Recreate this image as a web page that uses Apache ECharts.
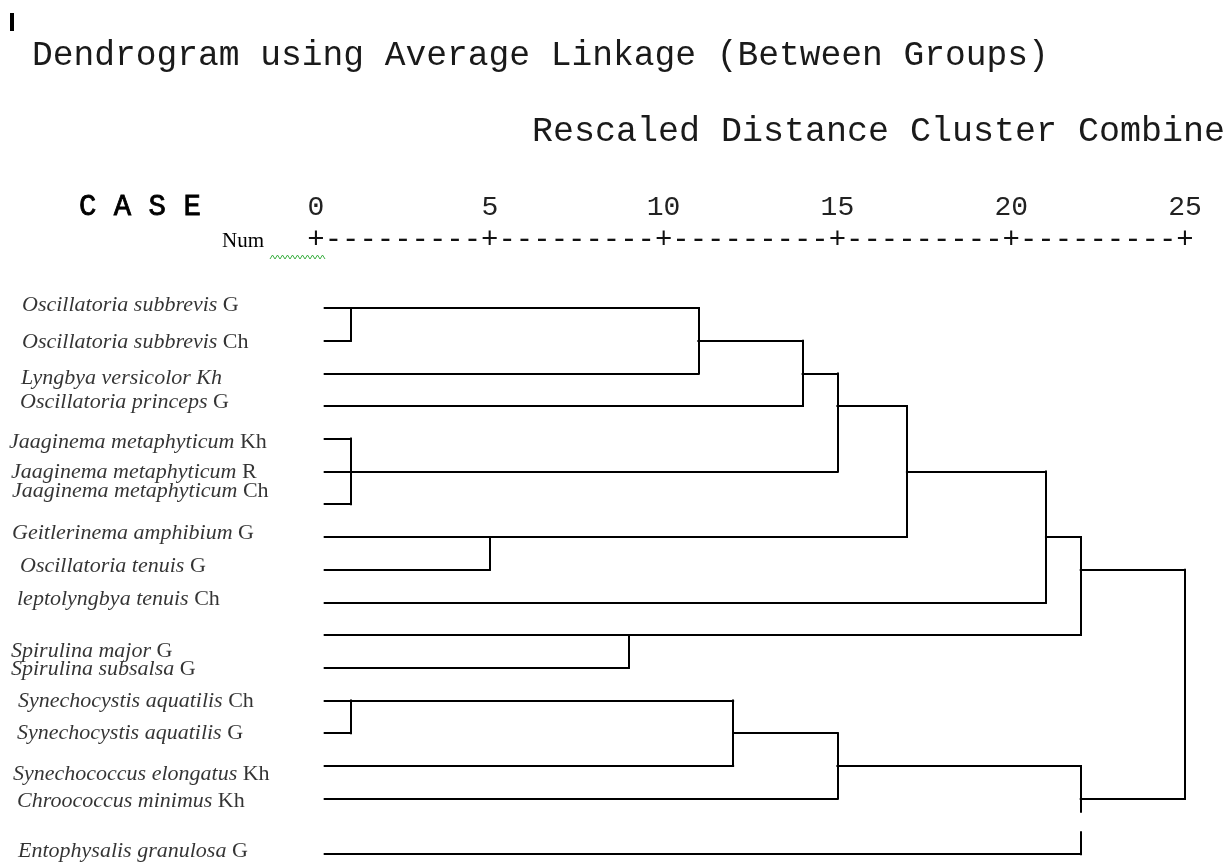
<!DOCTYPE html>
<html><head><meta charset="utf-8">
<script src="https://cdn.jsdelivr.net/npm/echarts@6/dist/echarts.min.js"></script>
<style>html,body{margin:0;padding:0;background:#fff}#c{width:1230px;height:864px}</style>
</head><body><div id="c"></div>
<script>
// ---- data ----
const species = ['Oscillatoria subbrevis','Oscillatoria subbrevis','Lyngbya versicolor','Oscillatoria princeps',
  'Jaaginema metaphyticum','Jaaginema metaphyticum','Jaaginema metaphyticum','Geitlerinema amphibium',
  'Oscillatoria tenuis','leptolyngbya tenuis','Spirulina major','Spirulina subsalsa',
  'Synechocystis aquatilis','Synechocystis aquatilis','Synechococcus elongatus','Chroococcus minimus',
  'Entophysalis granulosa'];
const sites = ['G','Ch','Kh','G','Kh','R','Ch','G','G','Ch','G','G','Ch','G','Kh','Kh','G'];
const siteItalic = [false,false,true,false,false,false,false,false,false,false,false,false,false,false,false,false,false];
const leafRows = [0,1,2,3,4,5,6,7,8,9,10,11,12,13,14,15,16.7];
// [clusterA, clusterB, rescaled distance]; new clusters numbered from 17
const merges = [[0,1,1],[17,2,11],[18,3,14],[4,5,1],[20,6,1],[19,21,15],[7,8,5],[22,23,17],
  [24,9,21],[10,11,9],[25,26,22],[12,13,1],[28,14,12],[29,15,15],[30,16,22],[27,31,25]];
const axisTicks = [0,5,10,15,20,25];
const leafStart = 0.25;

// ---- layout (pixel offsets of the leaf labels, gap in one vertical) ----
const labelDx = [22,22,21,20,9,11,12,12,20,17,11,11,18,17,13,17,18].map(v => v - 316);
const labelDy = [-3,2,5,-4,3,1,-13,-4,-3,-3,16,1,1,0,8,3,-3];
const gap = {merge: 14, from: 15.4, to: 16.03};

// ---- build segments through the tree ----
const node = leafRows.map(r => ({row: r, h: leafStart}));
const segs = [];
merges.forEach(([a, b, h], k) => {
  const A = node[a], B = node[b];
  if (h > A.h) segs.push([[A.h, A.row], [h, A.row]]);
  if (h > B.h) segs.push([[B.h, B.row], [h, B.row]]);
  const r0 = Math.min(A.row, B.row), r1 = Math.max(A.row, B.row);
  if (k === gap.merge) {
    segs.push([[h, r0], [h, gap.from]]);
    segs.push([[h, gap.to], [h, r1]]);
  } else {
    segs.push([[h, r0], [h, r1]]);
  }
  node.push({row: Math.floor((A.row + B.row) / 2), h: h});
});

const chart = echarts.init(document.getElementById('c'), null, {renderer: 'canvas'});
const mono = 'Liberation Mono';
const serif = 'Liberation Serif';

const wave = [];
for (let x = 270, i = 0; x <= 327; x += 2.5, i++) wave.push([x, i % 2 ? 255 : 259]);

chart.setOption({
  animation: false,
  backgroundColor: '#fff',
  grid: {left: 316, width: 869, top: 275.27, height: 589.1, containLabel: false},
  xAxis: [
    {type: 'value', position: 'top', min: 0, max: 25, interval: 5,
     axisLine: {show: false}, axisTick: {show: false}, splitLine: {show: false},
     axisLabel: {show: true, margin: 68, verticalAlign: 'middle', fontFamily: mono, fontSize: 28, color: '#222',
       formatter: v => axisTicks.indexOf(v) >= 0 ? String(v) : ''}},
    {type: 'value', position: 'top', min: 0, max: 25, interval: 0.5,
     axisLine: {show: false}, axisTick: {show: false}, splitLine: {show: false},
     axisLabel: {show: true, margin: 35, verticalAlign: 'middle', fontFamily: mono, fontSize: 28.97, color: '#111',
       formatter: v => (Math.abs(v % 5) < 1e-9 ? '+' : '-')}}
  ],
  yAxis: {type: 'value', inverse: true, min: -1, max: 17, show: false},
  graphic: [
    {type: 'rect', shape: {x: 10, y: 13, width: 4, height: 18}, style: {fill: '#000'}},
    {type: 'text', x: 32, y: 56, style: {text: 'Dendrogram using Average Linkage (Between Groups)', font: '34.6px "Liberation Mono"', fill: '#1a1a1a', verticalAlign: 'middle'}},
    {type: 'text', x: 532, y: 132, style: {text: 'Rescaled Distance Cluster Combine', font: '35px "Liberation Mono"', fill: '#1a1a1a', verticalAlign: 'middle'}},
    {type: 'text', x: 79, y: 207, style: {text: 'C A S E', font: '29px "Liberation Mono"', fill: '#000', stroke: '#000', lineWidth: 0.8, verticalAlign: 'middle'}},
    {type: 'text', x: 222, y: 241, style: {text: 'Num', font: '21px "Liberation Serif"', fill: '#000', verticalAlign: 'middle'}},
    {type: 'polyline', shape: {points: wave}, style: {stroke: '#3cb043', lineWidth: 1, fill: null}}
  ],
  series: [
    {type: 'lines', coordinateSystem: 'cartesian2d', xAxisIndex: 0, yAxisIndex: 0, silent: true,
     lineStyle: {color: '#000', width: 2, opacity: 1, cap: 'square'},
     data: segs.map(s => ({coords: s}))},
    {type: 'scatter', xAxisIndex: 0, yAxisIndex: 0, symbolSize: 0, silent: true, clip: false,
     data: leafRows.map((r, i) => ({
       value: [0, r],
       label: {position: [labelDx[i], labelDy[i]]}
     })),
     label: {show: true, align: 'left', verticalAlign: 'middle',
       formatter: p => {
         const i = p.dataIndex;
         return '{sp|' + species[i] + ' }' + (siteItalic[i] ? '{sp|' : '{st|') + sites[i] + '}';
       },
       rich: {
         sp: {fontFamily: serif, fontStyle: 'italic', fontSize: 22, color: '#000'},
         st: {fontFamily: serif, fontSize: 22, color: '#000'}
       }}}
  ]
});
</script></body></html>
